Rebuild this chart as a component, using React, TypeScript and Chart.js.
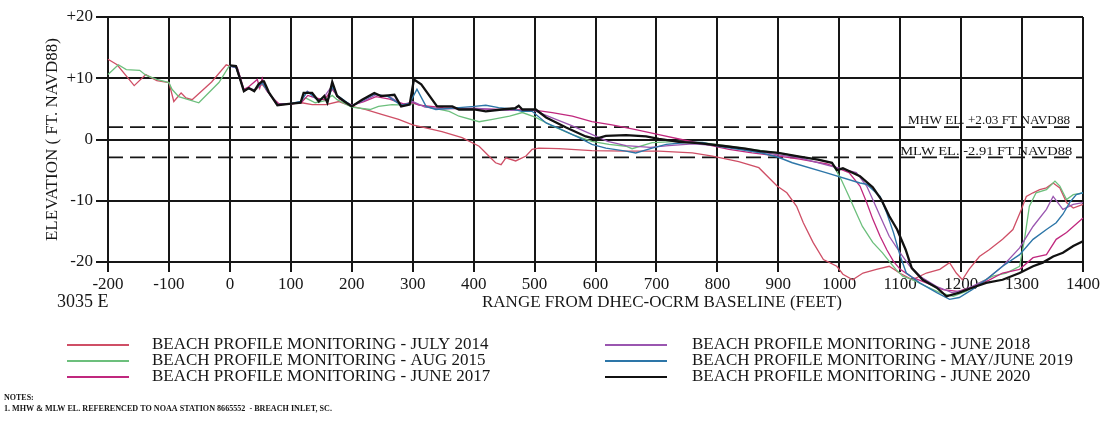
import React, { useEffect, useRef } from 'react';
import { Chart, registerables } from 'chart.js';

Chart.register(...registerables);

// Survey names, colours and tidal datums
const seriesNames = [
  'BEACH PROFILE MONITORING - JULY 2014',
  'BEACH PROFILE MONITORING - AUG 2015',
  'BEACH PROFILE MONITORING - JUNE 2017',
  'BEACH PROFILE MONITORING - JUNE 2018',
  'BEACH PROFILE MONITORING - MAY/JUNE 2019',
  'BEACH PROFILE MONITORING - JUNE 2020',
];
const seriesColors = ['#cf4f66', '#6cbf7c', '#c0287e', '#9a56b0', '#2d76a8', '#111111'];
const seriesWidths = [1.3, 1.3, 1.3, 1.3, 1.4, 2.3];

const MHW_EL = 2.03;
const MLW_EL = -2.91;
const mhwLabel = 'MHW EL. +2.03 FT NAVD88';
const mlwLabel = 'MLW EL. -2.91 FT NAVD88';
const profileId = '3035 E';
const xTitle = 'RANGE FROM DHEC-OCRM BASELINE (FEET)';
const yTitle = 'ELEVATION ( FT. NAVD88)';
const notesTitle = 'NOTES:';
const noteLine = '1. MHW & MLW EL. REFERENCED TO NOAA STATION 8665552  - BREACH INLET, SC.';

// Range (ft) and elevation (ft NAVD88) for each survey
const july2014Range = [-200, -185, -157, -138, -120, -100, -92, -80, -72, -62, -30, -6, 0, 10, 23, 31, 40, 53, 64, 78, 97, 118, 135, 158, 179, 200, 222, 249, 277, 300, 348, 381, 409, 420, 436, 445, 453, 469, 486, 496, 507, 540, 594, 650, 704, 759, 792, 835, 868, 898, 914, 930, 941, 957, 974, 996, 1006, 1022, 1039, 1061, 1082, 1099, 1120, 1143, 1165, 1181, 1192, 1202, 1213, 1230, 1246, 1268, 1285, 1299, 1307, 1318, 1329, 1340, 1351, 1362, 1373, 1384, 1400];
const july2014Elev = [13.1, 12.2, 8.8, 10.6, 9.6, 9.3, 6.2, 7.6, 6.8, 6.5, 9.4, 12.2, 12.0, 11.8, 7.9, 8.3, 7.9, 9.0, 7.6, 5.6, 5.8, 6.0, 5.7, 5.7, 6.2, 5.4, 4.9, 4.1, 3.3, 2.4, 1.3, 0.3, -1.1, -2.2, -3.8, -4.1, -3.0, -3.5, -2.7, -1.6, -1.4, -1.5, -1.8, -1.9, -1.9, -2.2, -2.7, -3.6, -4.6, -7.6, -8.7, -10.9, -13.6, -16.8, -19.6, -20.7, -22.0, -22.9, -21.8, -21.2, -20.7, -21.8, -22.9, -21.8, -21.2, -20.1, -21.8, -22.9, -21.2, -19.1, -18.0, -16.3, -14.7, -11.4, -9.3, -8.7, -8.2, -7.9, -7.1, -7.9, -10.3, -11.2, -10.6];

const aug2015Range = [-200, -183, -170, -148, -138, -120, -100, -95, -84, -51, -18, -1, 10, 23, 31, 40, 53, 64, 78, 97, 116, 124, 140, 155, 168, 176, 200, 230, 244, 266, 290, 302, 330, 360, 376, 409, 431, 459, 480, 502, 529, 562, 594, 622, 650, 660, 693, 737, 776, 819, 857, 900, 935, 967, 988, 1003, 1016, 1028, 1038, 1055, 1071, 1082, 1093, 1104, 1120, 1143, 1165, 1187, 1208, 1230, 1252, 1274, 1296, 1304, 1312, 1323, 1340, 1354, 1362, 1373, 1384, 1400];
const aug2015Elev = [10.6, 12.2, 11.4, 11.3, 10.5, 9.8, 9.3, 8.2, 7.0, 6.0, 9.3, 12.0, 11.9, 8.0, 8.3, 8.0, 9.2, 7.6, 5.7, 5.8, 6.0, 6.8, 6.0, 6.3, 7.2, 6.5, 5.3, 4.9, 5.4, 5.7, 5.6, 5.9, 5.2, 4.6, 3.8, 2.9, 3.3, 3.8, 4.4, 3.6, 2.2, 0.8, -0.3, -0.8, -1.1, -1.5, -0.5, -0.3, -0.5, -1.1, -1.6, -2.2, -2.8, -3.3, -3.8, -6.5, -9.3, -12.0, -14.2, -16.8, -18.5, -19.9, -21.2, -22.3, -22.9, -24.0, -25.0, -25.6, -24.8, -23.4, -22.3, -21.8, -20.7, -16.3, -10.9, -8.7, -8.2, -6.8, -7.6, -9.8, -9.0, -8.7];

const june2017Range = [0, 12, 23, 31, 45, 49, 53, 60, 70, 80, 100, 118, 128, 140, 155, 168, 180, 200, 220, 240, 262, 285, 300, 310, 350, 400, 450, 500, 529, 562, 594, 627, 666, 704, 741, 781, 819, 857, 900, 935, 980, 1016, 1034, 1045, 1055, 1067, 1078, 1089, 1100, 1120, 1145, 1170, 1195, 1220, 1245, 1268, 1296, 1318, 1340, 1356, 1373, 1400];
const june2017Elev = [12.0, 11.8, 8.2, 8.6, 9.8, 8.4, 10.0, 8.0, 6.8, 5.9, 5.8, 6.1, 7.2, 6.8, 6.5, 8.2, 6.6, 5.6, 6.2, 7.0, 6.6, 5.8, 6.0, 5.6, 5.2, 5.0, 4.9, 4.8, 4.4, 3.8, 2.9, 2.4, 1.6, 0.8, 0.0, -0.8, -1.6, -2.2, -2.7, -3.2, -4.0, -5.4, -7.6, -10.3, -13.0, -15.8, -18.0, -19.9, -21.2, -22.5, -23.5, -24.5, -24.8, -24.0, -23.0, -21.8, -21.2, -19.3, -18.8, -16.3, -15.2, -12.8];

const june2018Range = [0, 12, 23, 31, 40, 53, 64, 78, 97, 116, 127, 135, 146, 155, 168, 176, 200, 220, 240, 262, 285, 300, 320, 350, 400, 450, 500, 530, 560, 590, 620, 650, 690, 720, 760, 800, 850, 900, 935, 980, 1028, 1045, 1055, 1067, 1082, 1100, 1116, 1135, 1160, 1185, 1205, 1241, 1268, 1296, 1318, 1340, 1351, 1367, 1384, 1400];
const june2018Elev = [12.0, 11.7, 8.0, 8.4, 8.1, 9.2, 7.6, 5.7, 5.8, 6.1, 7.9, 7.3, 6.4, 7.0, 8.8, 7.0, 5.5, 6.3, 7.3, 7.0, 5.6, 6.2, 5.3, 5.0, 5.1, 4.8, 4.7, 3.5, 2.3, 1.0, -0.3, -1.0, -1.3, -1.0, -0.7, -1.0, -1.7, -2.5, -3.0, -4.2, -5.4, -7.6, -9.8, -12.5, -15.8, -18.5, -20.7, -22.5, -24.0, -25.0, -24.6, -22.9, -20.7, -17.7, -14.2, -11.4, -9.3, -11.4, -10.6, -10.3];

const mayJune2019Range = [0, 10, 23, 31, 40, 53, 64, 78, 97, 116, 127, 135, 146, 155, 160, 168, 176, 200, 217, 237, 260, 281, 295, 307, 322, 338, 376, 401, 420, 441, 463, 479, 496, 519, 540, 573, 594, 617, 650, 666, 693, 716, 749, 776, 802, 835, 873, 900, 923, 978, 1034, 1045, 1067, 1078, 1089, 1100, 1110, 1132, 1160, 1181, 1197, 1218, 1241, 1268, 1296, 1318, 1340, 1356, 1367, 1378, 1389, 1400];
const mayJune2019Elev = [12.0, 11.8, 8.0, 8.3, 8.0, 9.3, 7.6, 5.7, 5.8, 6.2, 7.8, 7.2, 6.3, 7.0, 6.1, 8.6, 7.2, 5.5, 6.4, 7.4, 7.0, 5.6, 5.9, 8.2, 5.4, 4.9, 5.2, 5.4, 5.6, 5.2, 5.0, 4.6, 4.6, 2.7, 1.8, 0.3, -0.8, -1.4, -1.9, -2.2, -1.4, -0.8, -0.5, -0.5, -1.1, -1.6, -2.2, -2.9, -3.8, -5.4, -7.1, -7.3, -9.3, -12.0, -15.2, -19.0, -21.8, -23.4, -25.0, -26.1, -25.8, -24.5, -22.9, -20.7, -18.8, -16.3, -14.7, -13.6, -12.2, -10.3, -9.0, -8.7];

const june2020Range = [0, 10, 23, 31, 40, 47, 53, 56, 64, 78, 97, 116, 121, 135, 146, 155, 160, 168, 176, 188, 200, 217, 237, 248, 260, 270, 281, 295, 302, 314, 340, 365, 376, 401, 420, 446, 468, 474, 480, 502, 519, 551, 584, 600, 617, 650, 683, 704, 737, 770, 814, 846, 870, 900, 935, 965, 988, 996, 1006, 1034, 1055, 1069, 1082, 1095, 1109, 1119, 1137, 1160, 1176, 1197, 1218, 1241, 1268, 1296, 1318, 1334, 1351, 1367, 1384, 1400];
const june2020Elev = [12.1, 12.0, 7.9, 8.4, 7.9, 9.0, 9.5, 9.5, 7.7, 5.6, 5.8, 6.0, 7.6, 7.6, 6.2, 7.1, 6.0, 9.4, 7.1, 6.2, 5.4, 6.5, 7.6, 7.1, 7.2, 7.3, 5.4, 5.7, 9.8, 9.0, 5.4, 5.4, 4.9, 4.9, 4.6, 4.9, 5.1, 5.5, 4.9, 4.9, 3.6, 2.0, 0.5, 0.1, 0.6, 0.7, 0.5, 0.1, -0.4, -0.6, -1.1, -1.5, -1.9, -2.2, -2.8, -3.3, -3.8, -5.0, -4.7, -6.0, -7.8, -9.8, -12.5, -14.7, -18.0, -21.0, -22.9, -24.2, -25.6, -25.0, -24.2, -23.4, -22.9, -21.8, -20.7, -20.1, -19.1, -18.5, -17.4, -16.6];

const seriesRanges = [july2014Range, aug2015Range, june2017Range, june2018Range, mayJune2019Range, june2020Range];
const seriesElevs = [july2014Elev, aug2015Elev, june2017Elev, june2018Elev, mayJune2019Elev, june2020Elev];

const SERIF = '"Liberation Serif", "Times New Roman", serif';
const INK = '#161616';

function text(
  ctx: CanvasRenderingContext2D,
  str: string,
  x: number,
  y: number,
  size: number,
  opts: { align?: CanvasTextAlign; bold?: boolean; width?: number } = {}
) {
  ctx.save();
  ctx.font = `${opts.bold ? 'bold ' : ''}${size}px ${SERIF}`;
  ctx.fillStyle = INK;
  ctx.textBaseline = 'middle';
  ctx.textAlign = opts.align || 'left';
  if (opts.width) {
    const w = ctx.measureText(str).width;
    const s = opts.width / w;
    ctx.translate(x, y);
    ctx.scale(s, 1);
    ctx.fillText(str, 0, 0);
  } else {
    ctx.fillText(str, x, y);
  }
  ctx.restore();
}

// Datum lines (dashed) and their captions, drawn over the grid, under the profiles
const datumPlugin = {
  id: 'datums',
  beforeDatasetsDraw(chart: any) {
    const { ctx, chartArea, scales } = chart;
    const y = scales.y;
    ctx.save();
    ctx.strokeStyle = INK;
    ctx.lineWidth = 1.8;
    ctx.setLineDash([15, 7]);
    [MHW_EL, MLW_EL].forEach((v) => {
      const py = y.getPixelForValue(v);
      ctx.beginPath();
      ctx.moveTo(chartArea.left, py);
      ctx.lineTo(chartArea.right, py);
      ctx.stroke();
    });
    ctx.restore();
    const x = scales.x;
    text(ctx, mhwLabel, x.getPixelForValue(1113), y.getPixelForValue(MHW_EL) - 6, 13, { width: 162 });
    text(ctx, mlwLabel, x.getPixelForValue(1100), y.getPixelForValue(MLW_EL) - 6, 13, { width: 172 });
  },
};

// Titles, legend and notes around the plot
const annotationPlugin = {
  id: 'annotations',
  afterDraw(chart: any) {
    const { ctx, chartArea } = chart;
    // vertical axis title
    ctx.save();
    ctx.translate(53, (chartArea.top + chartArea.bottom) / 2);
    ctx.rotate(-Math.PI / 2);
    text(ctx, yTitle, 0, 0, 17, { align: 'center' });
    ctx.restore();

    text(ctx, profileId, 57, 302, 18);
    text(ctx, xTitle, 482, 303, 17);

    const rows = [345, 361, 377];
    seriesNames.forEach((name, i) => {
      const col = i < 3 ? 0 : 1;
      const row = i % 3;
      const lx = col === 0 ? 67 : 605;
      const tx = col === 0 ? 152 : 692;
      const y = rows[row];
      ctx.save();
      ctx.strokeStyle = seriesColors[i];
      ctx.lineWidth = 2;
      ctx.beginPath();
      ctx.moveTo(lx, y);
      ctx.lineTo(lx + 62, y);
      ctx.stroke();
      ctx.restore();
      text(ctx, name, tx, y, 17);
    });

    text(ctx, notesTitle, 4, 398, 8, { bold: true });
    text(ctx, noteLine, 4, 409, 8, { bold: true, width: 328 });
  },
};

export default function App() {
  const canvasRef = useRef<HTMLCanvasElement | null>(null);

  useEffect(() => {
    const canvas = canvasRef.current;
    if (!canvas) return;
    const datasets = seriesNames.map((name, i) => ({
      label: name,
      data: seriesRanges[i].map((r, k) => ({ x: r, y: seriesElevs[i][k] })),
      borderColor: seriesColors[i],
      backgroundColor: seriesColors[i],
      borderWidth: seriesWidths[i],
      pointRadius: 0,
      tension: 0,
      fill: false,
      clip: false as any,
      order: seriesNames.length - i,
    }));

    const tickFont = { family: SERIF, size: 17 };
    const chart = new Chart(canvas, {
      type: 'line',
      data: { datasets },
      plugins: [datumPlugin, annotationPlugin],
      options: {
        animation: false,
        responsive: false,
        devicePixelRatio: 1,
        layout: { padding: { left: 0, right: 23, top: 17, bottom: 0 } },
        plugins: { legend: { display: false }, tooltip: { enabled: false } },
        scales: {
          x: {
            type: 'linear',
            min: -200,
            max: 1400,
            afterFit(scale: any) {
              scale.height = 163;
              scale.paddingLeft = 0;
              scale.paddingRight = 0;
            },
            ticks: {
              stepSize: 100,
              autoSkip: false,
              maxRotation: 0,
              padding: 2,
              color: INK,
              font: tickFont,
              callback: (v: any) => String(v),
            },
            grid: { color: INK, lineWidth: 2, tickLength: 10 },
            border: { color: INK, width: 2 },
          },
          y: {
            type: 'linear',
            min: -20,
            max: 20,
            afterFit(scale: any) {
              scale.width = 108;
              scale.paddingTop = 0;
              scale.paddingBottom = 0;
            },
            ticks: {
              stepSize: 10,
              padding: 3,
              color: INK,
              font: tickFont,
              callback: (v: any) => (v > 0 ? '+' + v : String(v)),
            },
            grid: { color: INK, lineWidth: 2, tickLength: 12 },
            border: { color: INK, width: 2 },
          },
        },
      },
    });
    return () => chart.destroy();
  }, []);

  return (
    <div style={{ position: 'absolute', left: 0, top: 0, width: 1106, height: 425, background: '#fff' }}>
      <canvas ref={canvasRef} width={1106} height={425} style={{ display: 'block' }} />
    </div>
  );
}
